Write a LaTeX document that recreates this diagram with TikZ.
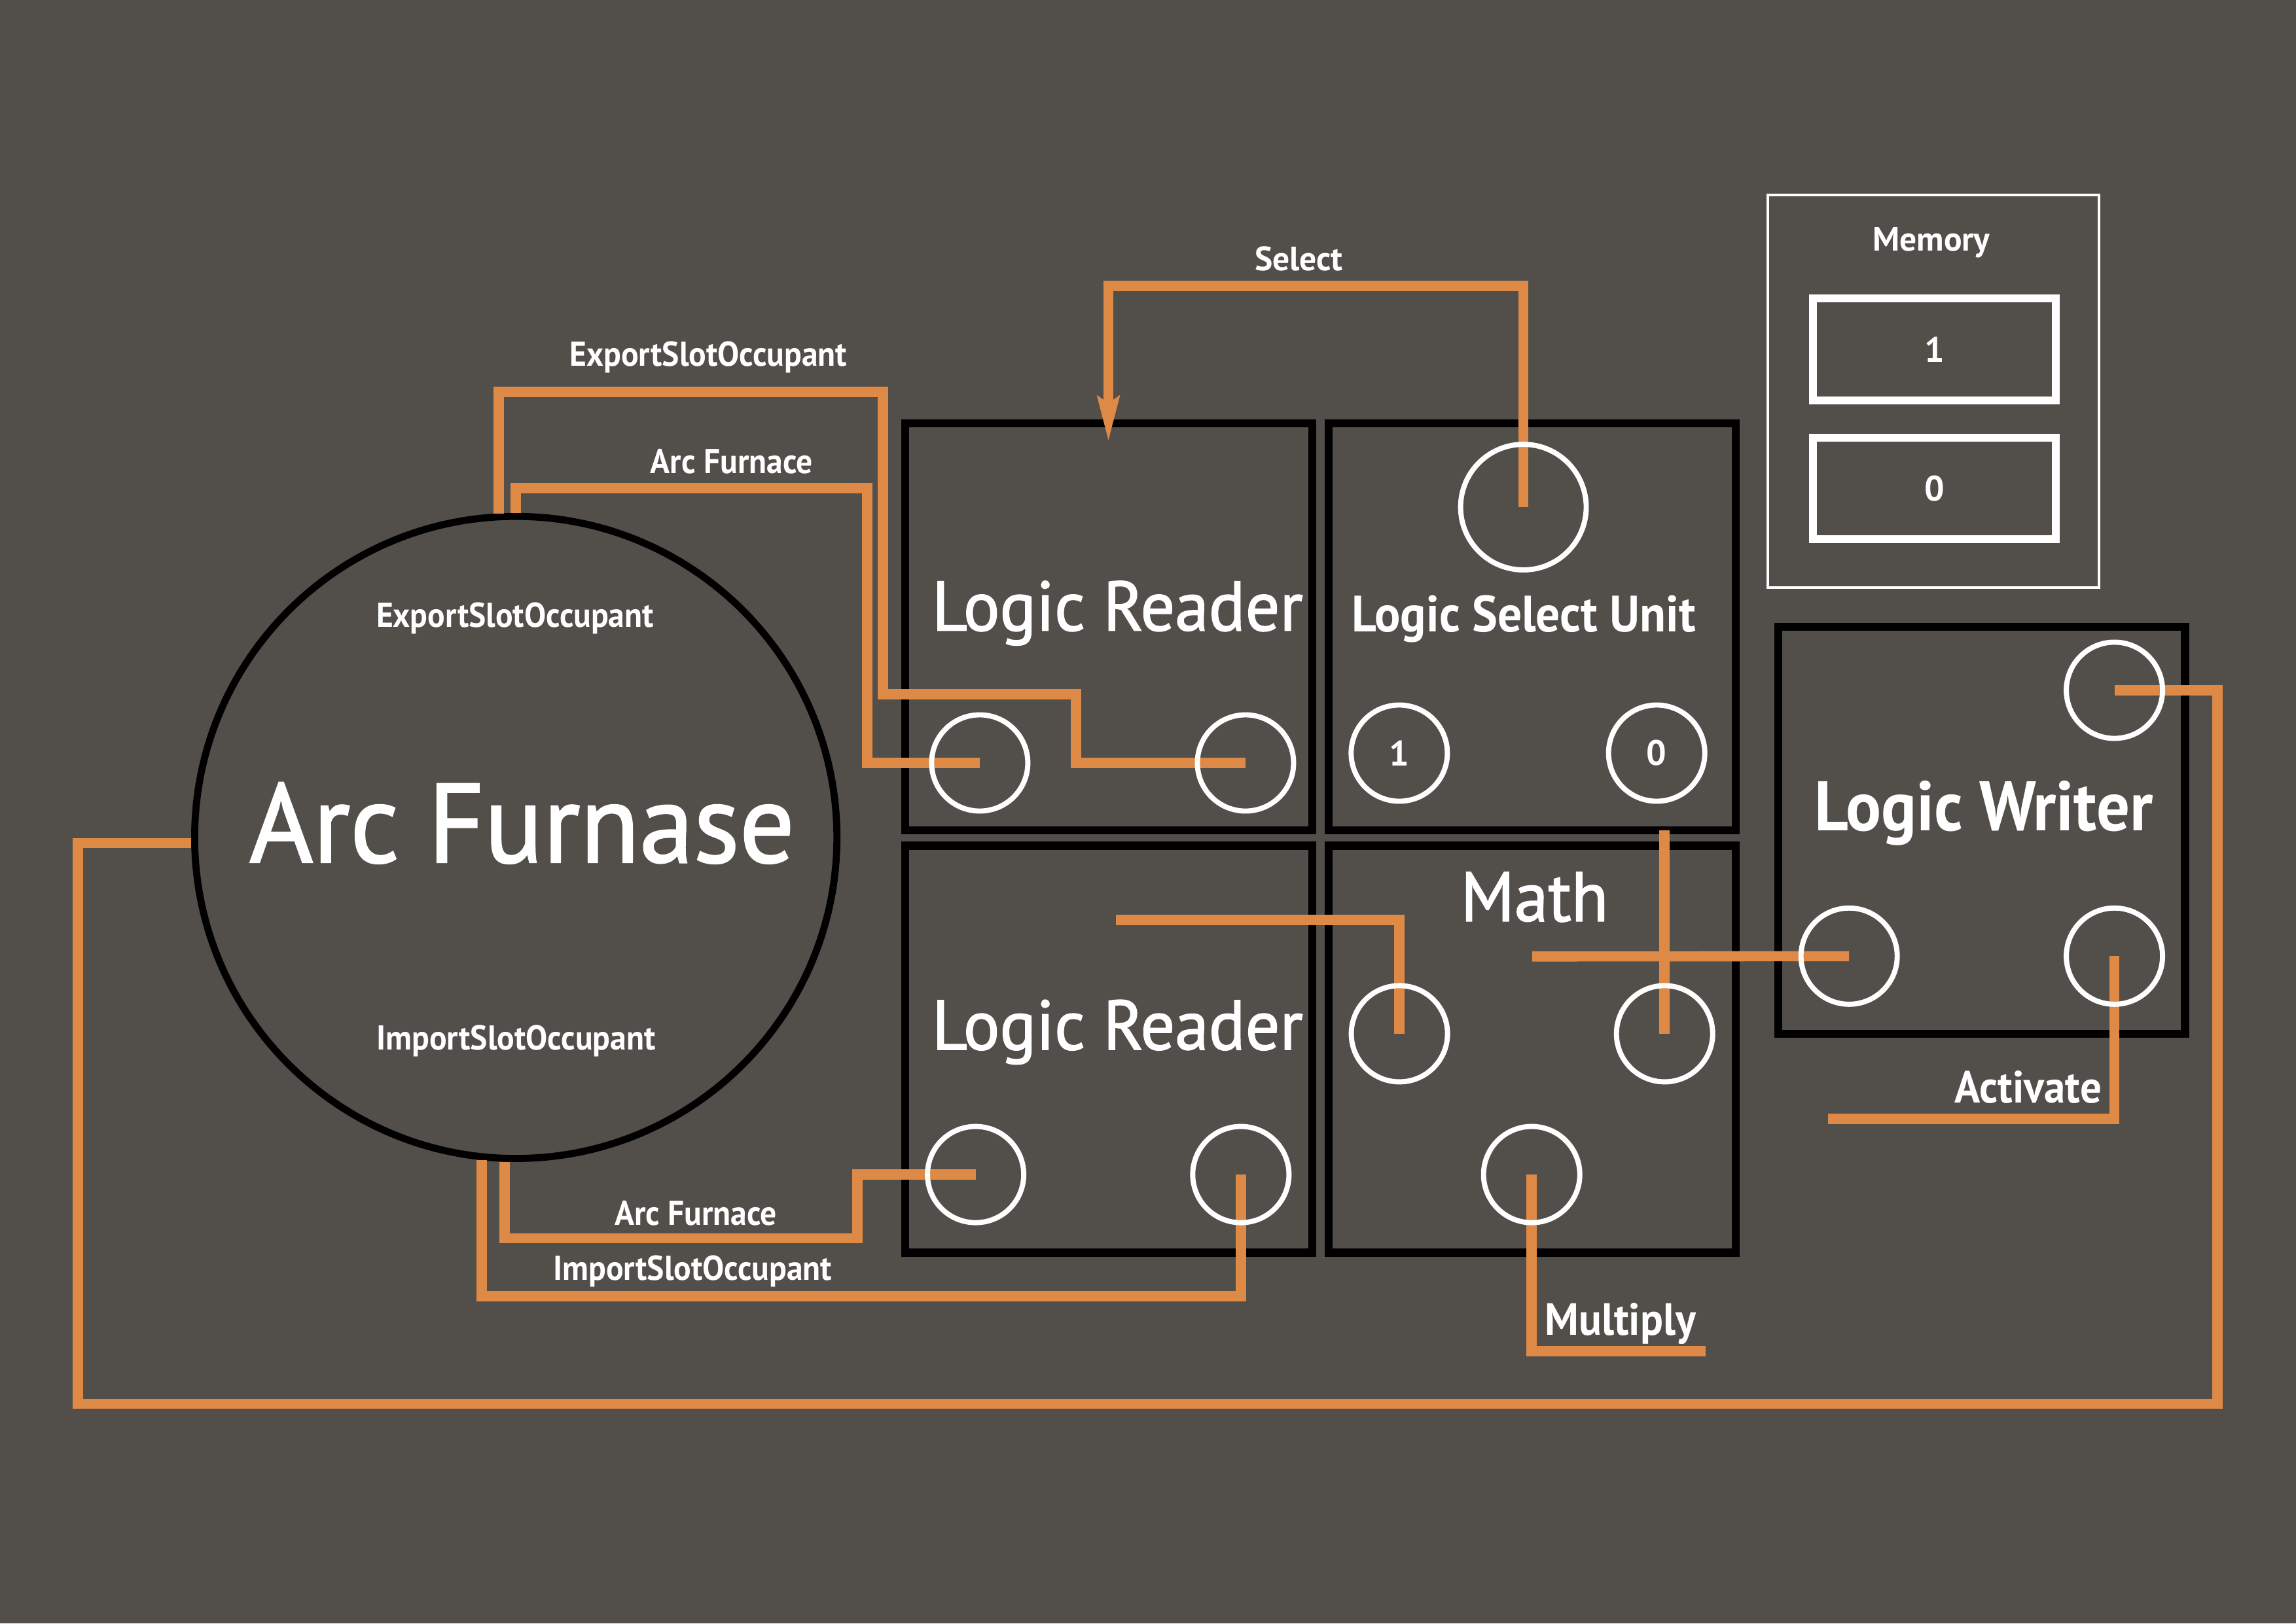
\documentclass[tikz,border=0pt]{standalone}
\usepackage{fontspec}
\setmainfont{PT Sans}
\newfontfamily\titlefont{PT Sans}[FakeStretch=0.97,FakeBold=1.5]
\newfontfamily\narrowfont{PT Sans}[FakeStretch=0.94]
\definecolor{afBg}{HTML}{524F4A}
\definecolor{afWire}{HTML}{DE8A46}
\usetikzlibrary{arrows.meta,backgrounds}

\begin{document}
\begin{tikzpicture}[
  unit/.style={draw=black,line width=3pt,minimum size=5.265cm,inner sep=0pt,outer sep=0pt},
  port/.style={circle,draw=white,line width=1.9pt,minimum size=1.245cm,inner sep=0pt,
               text=white,font=\bfseries\fontsize{13}{15}\selectfont},
  slot/.style={draw=white,line width=2.9pt,minimum width=3.14cm,minimum height=1.315cm,
               inner sep=0pt,text=white,font=\bfseries\fontsize{13}{15}\selectfont},
  wire/.style={draw=afWire,line width=3.75pt},
  lbl/.style={text=white,anchor=base,inner sep=0pt,font=\narrowfont\bfseries\fontsize{12.7}{15}\selectfont},
  title/.style={text=white,anchor=base,inner sep=0pt,font=\titlefont\fontsize{25.8}{30}\selectfont},
  >={Stealth[length=5.8mm,width=2.7mm,inset=0.8mm]}
]
\begin{scope}[on background layer]
  \fill[afBg] (0,0) rectangle (29.7,21.005);
  \node[circle,draw=black,line width=2.6pt,minimum size=8.308cm,inner sep=0pt] (af) at (6.672,10.169) {};
  \node[unit] (lr1) at (14.343,12.894) {};
  \node[unit] (lsu) at (19.818,12.894) {};
  \node[unit] (lr2) at (14.343,7.430) {};
  \node[unit] (math) at (19.818,7.430) {};
  \node[unit] (lw) at (25.634,10.260) {};
  \node[draw=white,line width=1pt,minimum width=4.281cm,minimum height=5.08cm] (mem) at (25.008,15.941) {};
\end{scope}
\useasboundingbox (0,0) rectangle (29.7,21.005);

% memory
\node[slot] (m1) at (25.021,16.484) {1};
\node[slot] (m0) at (25.021,14.684) {0};
\node[lbl,font=\bfseries\fontsize{12.4}{15}\selectfont] (memtxt) at (24.983,17.755) {Memory};

% ports
\node[port] (lr1a) at (12.673,11.133) {};
\node[port] (lr1b) at (16.111,11.133) {};
\node[port,minimum size=1.625cm] (lsus) at (19.706,14.443) {};
\node[port] (lsu1) at (18.100,11.260) {1};
\node[port] (lsu0) at (21.430,11.260) {0};
\node[port] (lr2a) at (12.620,5.807) {};
\node[port] (lr2b) at (16.051,5.807) {};
\node[port] (matha) at (18.102,7.629) {};
\node[port] (mathb) at (21.532,7.629) {};
\node[port] (mathc) at (19.813,5.807) {};
\node[port] (lwa) at (27.351,12.073) {};
\node[port] (lwb) at (23.919,8.633) {};
\node[port] (lwc) at (27.351,8.633) {};

% titles
\node[title,font=\titlefont\fontsize{41.3}{48}\selectfont] (aftxt) at (6.754,9.847) {Arc Furnase};
\node[title] (lr1txt) at (14.456,12.846) {Logic Reader};
\node[title,font=\narrowfont\bfseries\fontsize{18.8}{22}\selectfont] (lsutxt) at (19.712,12.834) {Logic Select Unit};
\node[title] (lr2txt) at (14.456,7.425) {Logic Reader};
\node[title] (mathtxt) at (19.850,9.086) {Math};
\node[title,font=\narrowfont\bfseries\fontsize{25.8}{30}\selectfont] (lwtxt) at (25.661,10.253) {Logic Writer};

% wire labels
\node[lbl] (expin) at (6.662,12.886) {ExportSlotOccupant};
\node[lbl] (impin) at (6.675,7.417) {ImportSlotOccupant};
\node[lbl] (exptop) at (9.163,16.265) {ExportSlotOccupant};
\node[lbl] (arctop) at (9.465,14.876) {Arc Furnace};
\node[lbl,font=\bfseries\fontsize{12.4}{15}\selectfont] (seltxt) at (16.801,17.501) {Select};
\node[lbl] (arcbot) at (9.001,5.152) {Arc Furnace};
\node[lbl] (impbot) at (8.959,4.438) {ImportSlotOccupant};
\node[lbl,font=\narrowfont\bfseries\fontsize{16.6}{20}\selectfont] (acttxt) at (26.237,6.737) {Activate};
\node[lbl,font=\narrowfont\bfseries\fontsize{16.6}{20}\selectfont] (multxt) at (20.960,3.728) {Multiply};

% free ends
\coordinate (seltip) at (14.338,15.283);
\coordinate (lr2src) at (14.435,9.103);
\coordinate (mathsrc) at (19.820,8.629);
\coordinate (mulend) at (22.066,3.523);
\coordinate (actend) at (23.646,6.527);

\begin{scope}[on background layer]
  \draw[wire] (af.93) |- (11.421,15.933) |- (13.920,12.022) |- (lr1b.center);
  \draw[wire] (af.north) |- (11.219,14.687) |- (lr1a.center);
  \draw[wire,->] (lsus.center) |- (14.338,17.307) -- (seltip);
  \draw[wire] (af.268) |- (11.092,4.981) |- (lr2a.center);
  \draw[wire] (af.264) |- (16.051,4.233) -- (lr2b.center);
  \draw[wire] (af.181) -| (1.006,2.841) -- (28.684,2.841) |- (lwa.center);
  \draw[wire] (lr2src) -| (matha.center);
  \draw[wire] (mathb.center |- lsu.south) -- (mathb.center);
  \draw[wire] (mathsrc) -- (lwb.center);
  \draw[wire] (mathc.center) |- (mulend);
  \draw[wire] (lwc.center) |- (actend);
\end{scope}
\end{tikzpicture}
\end{document}
